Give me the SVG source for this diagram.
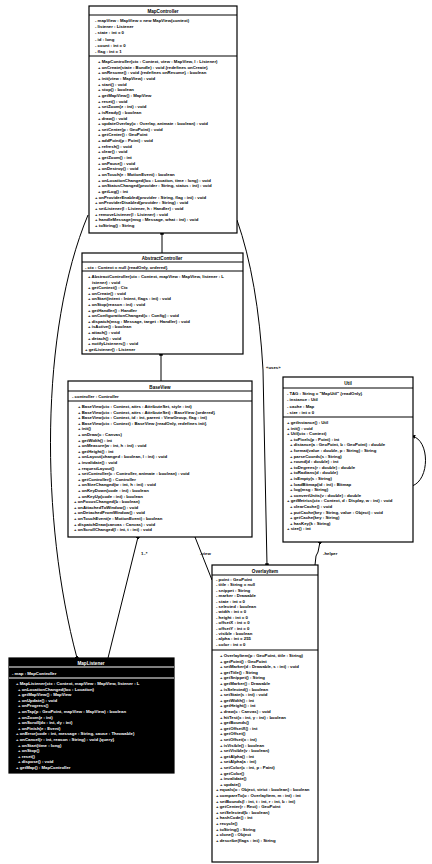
<svg xmlns="http://www.w3.org/2000/svg" width="432" height="864" viewBox="0 0 432 864">
  <style>
    .box { fill: #fff; stroke: #000; stroke-width: 1.2; }
    .sep { stroke: #000; stroke-width: 1; }
    .inv { fill: #000; stroke: #000; stroke-width: 1.2; }
    .sepw { stroke: #fff; stroke-width: 1; }
    .t { font-family: "Liberation Sans", Arial, sans-serif; font-size: 4.3px; font-weight: bold; fill: #000; }
    .h { font-family: "Liberation Sans", Arial, sans-serif; font-size: 4.6px; font-weight: bold; fill: #000; text-anchor: middle; }
    .w { fill: #fff; }
    .edge { fill: none; stroke: #000; stroke-width: 1; }
    .lbl { font-family: "Liberation Sans", Arial, sans-serif; font-size: 4.3px; font-weight: bold; fill: #000; }
  </style>
  <defs>
    <marker id="tip" viewBox="0 0 6 6" refX="5" refY="3" markerWidth="4" markerHeight="4" orient="auto">
      <path d="M0,0 L6,3 L0,6 z" fill="#000"/>
    </marker>
    <marker id="knob" viewBox="0 0 6 6" refX="3" refY="3" markerWidth="3.5" markerHeight="3.5" orient="auto">
      <rect x="0" y="0" width="6" height="6" fill="#000"/>
    </marker>
  </defs>

  <!-- connectors -->
  <g id="connectors">
    <path class="edge" d="M162,233 L162,253" marker-start="url(#knob)"/>
    <path class="edge" d="M161,354 L161,381" marker-start="url(#knob)"/>
    <path class="edge" d="M88,215 C40,330 40,520 77,658" marker-end="url(#knob)"/>
    <path class="edge" d="M237,220 Q258,280 263,370 L267,565" marker-end="url(#knob)"/>
    <path class="edge" d="M138,537 L108,658" marker-start="url(#knob)"/>
    <path class="edge" d="M195,537 L212,580" marker-start="url(#tip)"/>
    <path class="edge" d="M320,542 L318,552 L316,556 L315,565" marker-start="url(#knob)"/>
    <path class="edge" d="M412,486 C430,480 430,440 412,436" marker-end="url(#tip)"/>
    <text class="lbl" x="266" y="369">«uses»</text>
    <text class="lbl" x="141" y="555">1..*</text>
    <text class="lbl" x="200" y="555">-view</text>
    <text class="lbl" x="323" y="555">-helper</text>
  </g>

  <!-- MapController -->
  <g id="MapController">
    <rect class="box" x="89" y="6" width="148" height="227"/>
    <line class="sep" x1="89" y1="15" x2="237" y2="15"/>
    <line class="sep" x1="89" y1="56" x2="237" y2="56"/>
    <text class="h" x="163" y="13">MapController</text>
    <text class="t">
      <tspan x="95" y="22">- mapView : MapView = new MapView(context)</tspan>
      <tspan x="95" dy="6.2">- listener : Listener</tspan>
      <tspan x="95" dy="6.2">- state : int = 0</tspan>
      <tspan x="95" dy="6.2">- id : long</tspan>
      <tspan x="95" dy="6.2">- count : int = 0</tspan>
      <tspan x="95" dy="6.2">- flag : int = 1</tspan>
    </text>
    <text class="t">
      <tspan x="98" y="63">+ MapController(ctx : Context, view : MapView, l : Listener)</tspan>
      <tspan x="98" dy="5.65">+ onCreate(state : Bundle) : void {redefines onCreate}</tspan>
      <tspan x="98" dy="5.65">+ onResume() : void {redefines onResume} : boolean</tspan>
      <tspan x="98" dy="5.65">+ init(view : MapView) : void</tspan>
      <tspan x="98" dy="5.65">+ start() : void</tspan>
      <tspan x="98" dy="5.65">+ stop() : boolean</tspan>
      <tspan x="98" dy="5.65">+ getMapView() : MapView</tspan>
      <tspan x="98" dy="5.65">+ reset() : void</tspan>
      <tspan x="98" dy="5.65">+ setZoom(z : int) : void</tspan>
      <tspan x="98" dy="5.65">+ isReady() : boolean</tspan>
      <tspan x="98" dy="5.65">+ draw() : void</tspan>
      <tspan x="98" dy="5.65">+ updateOverlay(o : Overlay, animate : boolean) : void</tspan>
      <tspan x="98" dy="5.65">+ setCenter(p : GeoPoint) : void</tspan>
      <tspan x="98" dy="5.65">+ getCenter() : GeoPoint</tspan>
      <tspan x="98" dy="5.65">+ addPoint(p : Point) : void</tspan>
      <tspan x="98" dy="5.65">+ refresh() : void</tspan>
      <tspan x="98" dy="5.65">+ clear() : void</tspan>
      <tspan x="98" dy="5.65">+ getZoom() : int</tspan>
      <tspan x="98" dy="5.65">+ onPause() : void</tspan>
      <tspan x="98" dy="5.65">+ onDestroy() : void</tspan>
      <tspan x="98" dy="5.65">+ onTouch(e : MotionEvent) : boolean</tspan>
      <tspan x="98" dy="5.65">+ onLocationChanged(loc : Location, time : long) : void</tspan>
      <tspan x="98" dy="5.65">+ onStatusChanged(provider : String, status : int) : void</tspan>
      <tspan x="98" dy="5.65">+ getLog() : int</tspan>
      <tspan x="95" dy="5.65">+ onProviderEnabled(provider : String, flag : int) : void</tspan>
      <tspan x="95" dy="5.65">+ onProviderDisabled(provider : String) : void</tspan>
      <tspan x="95" dy="5.65">+ setListener(l : Listener, h : Handler) : void</tspan>
      <tspan x="95" dy="5.65">+ removeListener(l : Listener) : void</tspan>
      <tspan x="95" dy="5.65">+ handleMessage(msg : Message, what : int) : void</tspan>
      <tspan x="95" dy="5.65">+ toString() : String</tspan>
    </text>
  </g>

  <!-- AbstractController -->
  <g id="AbstractController">
    <rect class="box" x="82" y="253" width="161" height="101"/>
    <line class="sep" x1="82" y1="262" x2="243" y2="262"/>
    <line class="sep" x1="82" y1="271" x2="243" y2="271"/>
    <text class="h" x="162" y="260">AbstractController</text>
    <text class="t"><tspan x="85" y="268.5">- ctx : Context = null {readOnly, ordered}</tspan></text>
    <text class="t">
      <tspan x="88" y="278">+ AbstractController(ctx : Context, mapView : MapView, listener : L</tspan>
      <tspan x="92" dy="5.6">istener) : void</tspan>
      <tspan x="88" dy="5.6">+ getContext() : Ctx</tspan>
      <tspan x="88" dy="5.6">+ onCreate() : void</tspan>
      <tspan x="88" dy="5.6">+ onStart(intent : Intent, flags : int) : void</tspan>
      <tspan x="88" dy="5.6">+ onStop(reason : int) : void</tspan>
      <tspan x="88" dy="5.6">+ getHandler() : Handler</tspan>
      <tspan x="88" dy="5.6">+ onConfigurationChanged(c : Config) : void</tspan>
      <tspan x="88" dy="5.6">+ dispatch(msg : Message, target : Handler) : void</tspan>
      <tspan x="88" dy="5.6">+ isActive() : boolean</tspan>
      <tspan x="88" dy="5.6">+ attach() : void</tspan>
      <tspan x="88" dy="5.6">+ detach() : void</tspan>
      <tspan x="88" dy="5.6">+ notifyListeners() : void</tspan>
      <tspan x="85" dy="5.6">+ getListener() : Listener</tspan>
    </text>
  </g>

  <!-- BaseView -->
  <g id="BaseView">
    <rect class="box" x="68" y="381" width="184" height="156"/>
    <line class="sep" x1="68" y1="391" x2="252" y2="391"/>
    <line class="sep" x1="68" y1="401" x2="252" y2="401"/>
    <text class="h" x="160" y="388.5">BaseView</text>
    <text class="t"><tspan x="72" y="398">- controller : Controller</tspan></text>
    <text class="t">
      <tspan x="78" y="408">+ BaseView(ctx : Context, attrs : AttributeSet, style : int)</tspan>
      <tspan x="78" dy="5.6">+ BaseView(ctx : Context, attrs : AttributeSet) : BaseView {ordered}</tspan>
      <tspan x="78" dy="5.6">+ BaseView(ctx : Context, id : int, parent : ViewGroup, flag : int)</tspan>
      <tspan x="78" dy="5.6">+ BaseView(ctx : Context) : BaseView {readOnly, redefines init}</tspan>
      <tspan x="78" dy="5.6">+ init()</tspan>
      <tspan x="78" dy="5.6">+ onDraw(c : Canvas)</tspan>
      <tspan x="78" dy="5.6">+ getWidth() : int</tspan>
      <tspan x="78" dy="5.6">+ onMeasure(w : int, h : int) : void</tspan>
      <tspan x="78" dy="5.6">+ getHeight() : int</tspan>
      <tspan x="78" dy="5.6">+ onLayout(changed : boolean, l : int) : void</tspan>
      <tspan x="78" dy="5.6">+ invalidate() : void</tspan>
      <tspan x="78" dy="5.6">+ requestLayout()</tspan>
      <tspan x="78" dy="5.6">+ setController(c : Controller, animate : boolean) : void</tspan>
      <tspan x="78" dy="5.6">+ getController() : Controller</tspan>
      <tspan x="78" dy="5.6">+ onSizeChanged(w : int, h : int) : void</tspan>
      <tspan x="78" dy="5.6">+ onKeyDown(code : int) : boolean</tspan>
      <tspan x="78" dy="5.6">+ onKeyUp(code : int) : boolean</tspan>
      <tspan x="74" dy="5.6">+ onFocusChanged(b : boolean)</tspan>
      <tspan x="74" dy="5.6">+ onAttachedToWindow() : void</tspan>
      <tspan x="74" dy="5.6">+ onDetachedFromWindow() : void</tspan>
      <tspan x="74" dy="5.6">+ onTouchEvent(e : MotionEvent) : boolean</tspan>
      <tspan x="74" dy="5.6">+ dispatchDraw(canvas : Canvas) : void</tspan>
      <tspan x="74" dy="5.6">+ onScrollChanged(l : int, t : int) : void</tspan>
    </text>
  </g>

  <!-- Util -->
  <g id="Util">
    <rect class="box" x="283" y="377" width="130" height="165"/>
    <line class="sep" x1="283" y1="388" x2="413" y2="388"/>
    <line class="sep" x1="283" y1="417" x2="413" y2="417"/>
    <text class="h" x="348" y="385">Util</text>
    <text class="t">
      <tspan x="287" y="395">- TAG : String = "MapUtil" {readOnly}</tspan>
      <tspan x="287" dy="6.4">- instance : Util</tspan>
      <tspan x="287" dy="6.4">- cache : Map</tspan>
      <tspan x="287" dy="6.4">- size : int = 0</tspan>
    </text>
    <text class="t">
      <tspan x="287" y="424">+ getInstance() : Util</tspan>
      <tspan x="287" dy="5.6">+ init() : void</tspan>
      <tspan x="287" dy="5.6">+ Util(ctx : Context)</tspan>
      <tspan x="290" dy="5.6">+ toPixels(p : Point) : int</tspan>
      <tspan x="290" dy="5.6">+ distance(a : GeoPoint, b : GeoPoint) : double</tspan>
      <tspan x="290" dy="5.6">+ format(value : double, p : String) : String</tspan>
      <tspan x="290" dy="5.6">+ parseCoords(s : String)</tspan>
      <tspan x="290" dy="5.6">+ round(d : double) : int</tspan>
      <tspan x="290" dy="5.6">+ toDegrees(r : double) : double</tspan>
      <tspan x="290" dy="5.6">+ toRadians(d : double)</tspan>
      <tspan x="290" dy="5.6">+ isEmpty(s : String)</tspan>
      <tspan x="290" dy="5.6">+ loadBitmap(id : int) : Bitmap</tspan>
      <tspan x="290" dy="5.6">+ log(msg : String)</tspan>
      <tspan x="290" dy="5.6">+ convertUnits(v : double) : double</tspan>
      <tspan x="287" dy="5.6">+ getMetrics(ctx : Context, d : Display, w : int) : void</tspan>
      <tspan x="290" dy="5.6">+ clearCache() : void</tspan>
      <tspan x="290" dy="5.6">+ putCache(key : String, value : Object) : void</tspan>
      <tspan x="290" dy="5.6">+ getCache(key : String)</tspan>
      <tspan x="290" dy="5.6">+ hasKey(k : String)</tspan>
      <tspan x="287" dy="5.6">+ size() : int</tspan>
    </text>
  </g>

  <!-- OverlayItem -->
  <g id="OverlayItem">
    <rect class="box" x="212" y="565" width="106" height="297"/>
    <line class="sep" x1="212" y1="575" x2="318" y2="575"/>
    <line class="sep" x1="212" y1="650" x2="318" y2="650"/>
    <text class="h" x="265" y="572.5">OverlayItem</text>
    <text class="t">
      <tspan x="216" y="581">- point : GeoPoint</tspan>
      <tspan x="216" dy="5.4">- title : String = null</tspan>
      <tspan x="216" dy="5.4">- snippet : String</tspan>
      <tspan x="216" dy="5.4">- marker : Drawable</tspan>
      <tspan x="216" dy="5.4">- state : int = 0</tspan>
      <tspan x="216" dy="5.4">- selected : boolean</tspan>
      <tspan x="216" dy="5.4">- width : int = 0</tspan>
      <tspan x="216" dy="5.4">- height : int = 0</tspan>
      <tspan x="216" dy="5.4">- offsetX : int = 0</tspan>
      <tspan x="216" dy="5.4">- offsetY : int = 0</tspan>
      <tspan x="216" dy="5.4">- visible : boolean</tspan>
      <tspan x="216" dy="5.4">- alpha : int = 255</tspan>
      <tspan x="216" dy="5.4">- color : int = 0</tspan>
    </text>
    <text class="t">
      <tspan x="220" y="657">+ OverlayItem(p : GeoPoint, title : String)</tspan>
      <tspan x="220" dy="5.6">+ getPoint() : GeoPoint</tspan>
      <tspan x="220" dy="5.6">+ setMarker(d : Drawable, s : int) : void</tspan>
      <tspan x="220" dy="5.6">+ getTitle() : String</tspan>
      <tspan x="220" dy="5.6">+ getSnippet() : String</tspan>
      <tspan x="220" dy="5.6">+ getMarker() : Drawable</tspan>
      <tspan x="220" dy="5.6">+ isSelected() : boolean</tspan>
      <tspan x="220" dy="5.6">+ setState(s : int) : void</tspan>
      <tspan x="220" dy="5.6">+ getWidth() : int</tspan>
      <tspan x="220" dy="5.6">+ getHeight() : int</tspan>
      <tspan x="220" dy="5.6">+ draw(c : Canvas) : void</tspan>
      <tspan x="220" dy="5.6">+ hitTest(x : int, y : int) : boolean</tspan>
      <tspan x="220" dy="5.6">+ getBounds()</tspan>
      <tspan x="220" dy="5.6">+ getOffsetX() : int</tspan>
      <tspan x="220" dy="5.6">+ getOffset()</tspan>
      <tspan x="220" dy="5.6">+ setOffset(x : int)</tspan>
      <tspan x="220" dy="5.6">+ isVisible() : boolean</tspan>
      <tspan x="220" dy="5.6">+ setVisible(v : boolean)</tspan>
      <tspan x="220" dy="5.6">+ getAlpha() : int</tspan>
      <tspan x="220" dy="5.6">+ setAlpha(a : int)</tspan>
      <tspan x="220" dy="5.6">+ setColor(c : int, p : Paint)</tspan>
      <tspan x="220" dy="5.6">+ getColor()</tspan>
      <tspan x="220" dy="5.6">+ invalidate()</tspan>
      <tspan x="220" dy="5.6">+ update()</tspan>
      <tspan x="216" dy="5.6">+ equals(o : Object, strict : boolean) : boolean</tspan>
      <tspan x="216" dy="5.6">+ compareTo(o : OverlayItem, m : int) : int</tspan>
      <tspan x="216" dy="5.6">+ setBounds(l : int, t : int, r : int, b : int)</tspan>
      <tspan x="216" dy="5.6">+ getCenter(r : Rect) : GeoPoint</tspan>
      <tspan x="216" dy="5.6">+ setSelected(b : boolean)</tspan>
      <tspan x="216" dy="5.6">+ hashCode() : int</tspan>
      <tspan x="216" dy="5.6">+ recycle()</tspan>
      <tspan x="216" dy="5.6">+ toString() : String</tspan>
      <tspan x="216" dy="5.6">+ clone() : Object</tspan>
      <tspan x="216" dy="5.6">+ describe(flags : int) : String</tspan>
    </text>
  </g>

  <!-- MapListener (highlighted) -->
  <g id="MapListener">
    <rect class="inv" x="9" y="658" width="165" height="115"/>
    <line class="sepw" x1="9" y1="667" x2="174" y2="667"/>
    <line class="sepw" x1="9" y1="678" x2="174" y2="678"/>
    <text class="h w" x="91" y="665">MapListener</text>
    <text class="t w"><tspan x="12" y="675">- map : MapController</tspan></text>
    <text class="t w">
      <tspan x="16" y="685">+ MapListener(ctx : Context, mapView : MapView, listener : L</tspan>
      <tspan x="18" dy="5.6">+ onLocationChanged(loc : Location)</tspan>
      <tspan x="18" dy="5.6">+ getMapView() : MapView</tspan>
      <tspan x="18" dy="5.6">+ onUpdate() : void</tspan>
      <tspan x="18" dy="5.6">+ onProgress()</tspan>
      <tspan x="18" dy="5.6">+ onTap(p : GeoPoint, mapView : MapView) : boolean</tspan>
      <tspan x="18" dy="5.6">+ onZoom(z : int)</tspan>
      <tspan x="18" dy="5.6">+ onScroll(dx : int, dy : int)</tspan>
      <tspan x="18" dy="5.6">+ onFinish(e : Event)</tspan>
      <tspan x="16" dy="5.6">+ onError(code : int, message : String, cause : Throwable)</tspan>
      <tspan x="16" dy="5.6">+ onCancel(r : int, reason : String) : void {query}</tspan>
      <tspan x="18" dy="5.6">+ onStart(time : long)</tspan>
      <tspan x="18" dy="5.6">+ onStop()</tspan>
      <tspan x="18" dy="5.6">+ reset()</tspan>
      <tspan x="18" dy="5.6">+ dispose() : void</tspan>
      <tspan x="16" dy="5.6">+ getMap() : MapController</tspan>
    </text>
  </g>
</svg>
